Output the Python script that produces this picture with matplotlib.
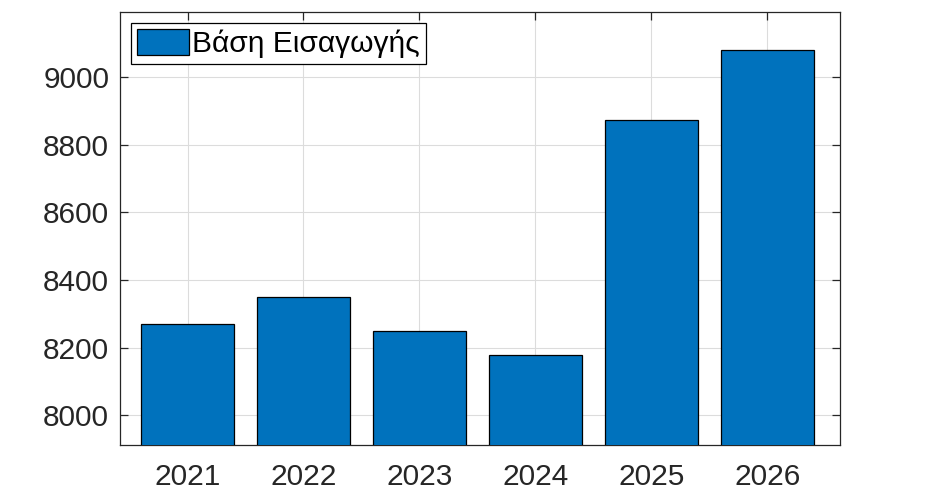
import matplotlib
matplotlib.use("Agg")
import matplotlib.pyplot as plt

years = [2021, 2022, 2023, 2024, 2025, 2026]
values = [8270, 8350, 8250, 8178, 8873, 9080]
yticks = [8000, 8200, 8400, 8600, 8800, 9000]
series_label = "Βάση Εισαγωγής"

plt.rcParams['font.family'] = ['Liberation Sans', 'DejaVu Sans']

fig = plt.figure(figsize=(9.29, 5.01), dpi=100)
ax = fig.add_axes([0.1295, 0.111, 0.775, 0.8644])

ax.bar(years, values, width=0.8, color='#0072BD', edgecolor='black',
       linewidth=0.9, label=series_label, zorder=3)

ax.set_xlim(2020.42, 2026.63)
ax.set_ylim(7911, 9192)
ax.set_xticks(years)
ax.set_xticklabels([str(y) for y in years])
ax.set_yticks(yticks)
ax.set_yticklabels([str(v) for v in yticks])

ax.grid(True, color='#dcdcdc', linewidth=0.8, zorder=0)
ax.set_axisbelow(True)
for s in ax.spines.values():
    s.set_color('#262626')
    s.set_linewidth(0.9)
ax.tick_params(axis='both', direction='in', length=6, width=0.9,
               colors='#262626', labelsize=21.5, top=True, right=True)
ax.tick_params(axis='x', pad=13)
ax.tick_params(axis='y', pad=8)

leg = ax.legend(loc='upper left', fontsize=21.5, frameon=True, fancybox=False,
                edgecolor='black', framealpha=1, borderpad=0.2,
                handlelength=1.75, handleheight=0.95, handletextpad=0.1,
                borderaxespad=0.35)
leg.get_frame().set_linewidth(0.9)

fig.savefig("out.png", dpi=100)
